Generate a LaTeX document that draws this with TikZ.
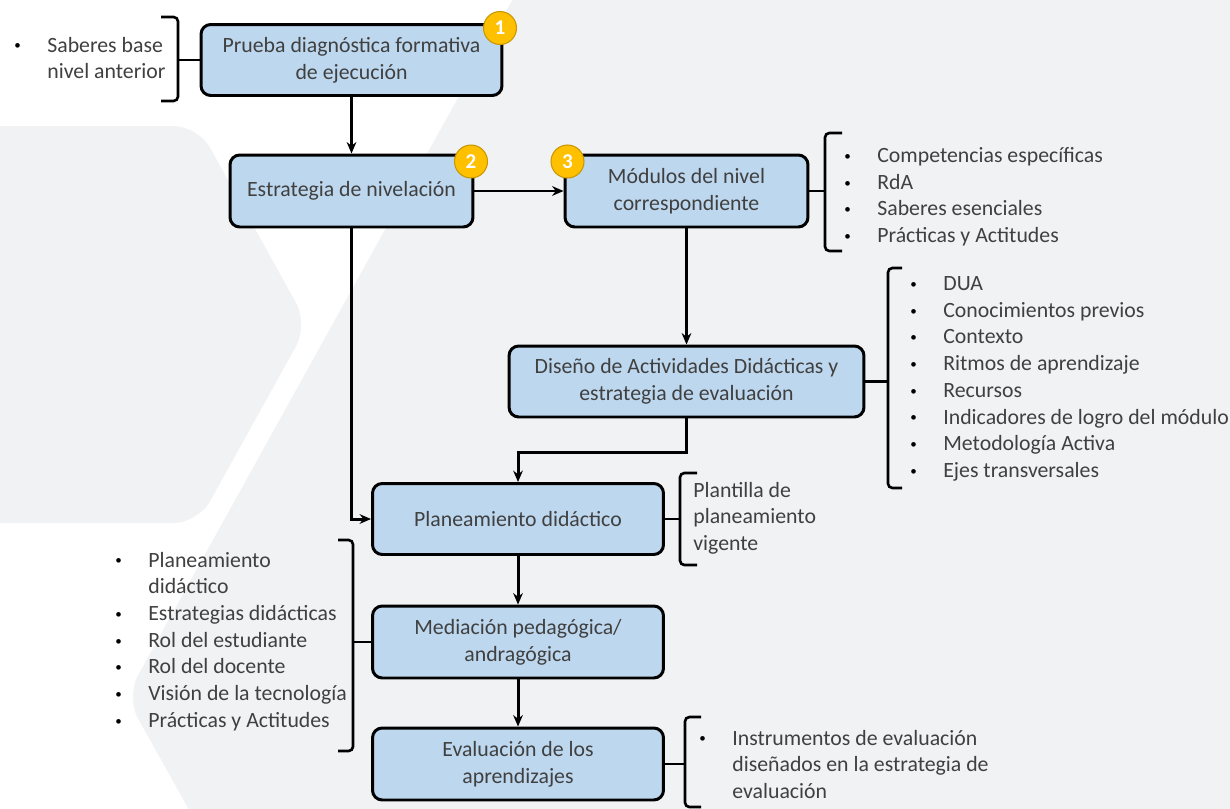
\documentclass[tikz,border=0pt]{standalone}
\usepackage{fontspec}
\usepackage{graphicx}
\setmainfont{Carlito}
\usetikzlibrary{arrows.meta}
\definecolor{fondo}{HTML}{F1F2F4}
\definecolor{azul}{HTML}{BDD7EE}
\definecolor{oro}{HTML}{FFC000}
\definecolor{oroborde}{HTML}{C99700}
\definecolor{texto}{HTML}{404040}
\newcommand{\bul}{\makebox[0.66cm][l]{\textcolor{black}{\raisebox{0.2ex}{\scalebox{0.6}{\textbullet}}}}}
\newcommand{\sinbul}{\makebox[0.66cm][l]{}}

\begin{document}
\begin{tikzpicture}[x=0.02cm, y=-0.02cm,
  caja/.style={rectangle, rounded corners=5.5pt, draw, line width=1.7pt, fill=azul,
    text=texto, align=center, inner sep=0pt, font=\fontsize{12.4}{15.2}\selectfont},
  insignia/.style={circle, fill=oro, draw=oroborde, line width=0.6pt, minimum size=0.66cm,
    inner sep=0pt, text=white, font=\bfseries\fontsize{12}{13}\selectfont},
  lista/.style={anchor=base west, inner sep=0pt, text=texto, font=\fontsize{12.4}{15.2}\selectfont},
  flecha/.style={line width=1.7pt, -{Stealth[length=6.5pt, width=5.5pt]}},
  llave/.style={line width=1.5pt, rounded corners=2.5pt}]
\useasboundingbox (0,0) rectangle (1230,808);
% fondo
\fill[white] (0,0) rectangle (1230,808);
\fill[fondo, rounded corners=14pt] (540,-50) -- (126,697) -- (216,858) -- (1300,858) -- (1300,-50) -- cycle;
\fill[fondo, rounded corners=14pt] (-50,126) -- (198,126) -- (308,324.5) -- (198,523) -- (-50,523) -- cycle;

% cajas
\node[caja, minimum width=6.02cm, minimum height=1.42cm] (prueba) at (351.5,60) {Prueba diagnóstica formativa\\de ejecución};
\node[caja, minimum width=4.86cm, minimum height=1.44cm] (nivel) at (351.5,191) {Estrategia de nivelación};
\node[caja, minimum width=4.86cm, minimum height=1.44cm] (modulos) at (686.5,191) {Módulos del nivel\\correspondiente};
\node[caja, minimum width=7.1cm, minimum height=1.42cm] (diseno) at (686.5,381.5) {Diseño de Actividades Didácticas y\\estrategia de evaluación};
\node[caja, minimum width=5.82cm, minimum height=1.42cm] (plan) at (518,519) {Planeamiento didáctico};
\node[caja, minimum width=5.82cm, minimum height=1.44cm] (mediacion) at (518,642) {Mediación pedagógica/\\andragógica};
\node[caja, minimum width=5.82cm, minimum height=1.44cm] (evaluacion) at (518,764) {Evaluación de los\\aprendizajes};

% numeros
\node[insignia] (n1) at (500,28) {1};
\node[insignia] (n2) at (471,161.5) {2};
\node[insignia] (n3) at (567.5,161.5) {3};

% flechas
\draw[flecha] (prueba) -- (nivel);
\draw[flecha] (nivel) -- (modulos);
\draw[flecha] (nivel.south) |- (plan.west);
\draw[flecha] (modulos) -- (diseno);
\draw[flecha] (diseno.south) -- ++(0,34) -| (plan.north);
\draw[flecha] (plan) -- (mediacion);
\draw[flecha] (mediacion) -- (evaluacion);

% listas
\node[lista] (saberes) at (14,52) {\begin{tabular}[t]{@{}l@{}}\bul Saberes base\\ \sinbul nivel anterior\end{tabular}};
\node[lista] (competencias) at (844,162.5) {\begin{tabular}[t]{@{}l@{}}\bul Competencias específicas\\ \bul RdA\\ \bul Saberes esenciales\\ \bul Prácticas y Actitudes\end{tabular}};
\node[lista] (dua) at (910,290.5) {\begin{tabular}[t]{@{}l@{}}\bul DUA\\ \bul Conocimientos previos\\ \bul Contexto\\ \bul Ritmos de aprendizaje\\ \bul Recursos\\ \bul Indicadores de logro del módulo\\ \bul Metodología Activa\\ \bul Ejes transversales\end{tabular}};
\node[lista] (plantilla) at (693,497) {\begin{tabular}[t]{@{}l@{}}Plantilla de\\ planeamiento\\ vigente\end{tabular}};
\node[lista] (roles) at (115,567) {\begin{tabular}[t]{@{}l@{}}\bul Planeamiento\\ \sinbul didáctico\\ \bul Estrategias didácticas\\ \bul Rol del estudiante\\ \bul Rol del docente\\ \bul Visión de la tecnología\\ \bul Prácticas y Actitudes\end{tabular}};
\node[lista] (instrumentos) at (699,745) {\begin{tabular}[t]{@{}l@{}}\bul Instrumentos de evaluación\\ \sinbul diseñados en la estrategia de\\ \sinbul evaluación\end{tabular}};

% llaves
\draw[llave] (161,17) -- (178,17) -- (178,101) -- (161,101);
\draw[llave] (prueba.west) -- (178,60);
\draw[llave] (842,133) -- (825,133) -- (825,251) -- (842,251);
\draw[llave] (modulos.east) -- (825,191);
\draw[llave] (902,268) -- (888,268) -- (888,488) -- (902,488);
\draw[llave] (diseno.east) -- (888,381.5);
\draw[llave] (697,473) -- (680,473) -- (680,565) -- (697,565);
\draw[llave] (plan.east) -- (680,519);
\draw[llave] (338,540) -- (353,540) -- (353,751) -- (338,751);
\draw[llave] (mediacion.west) -- (353,642);
\draw[llave] (701,717) -- (685,717) -- (685,807) -- (701,807);
\draw[llave] (evaluacion.east) -- (685,764);
\end{tikzpicture}
\end{document}
